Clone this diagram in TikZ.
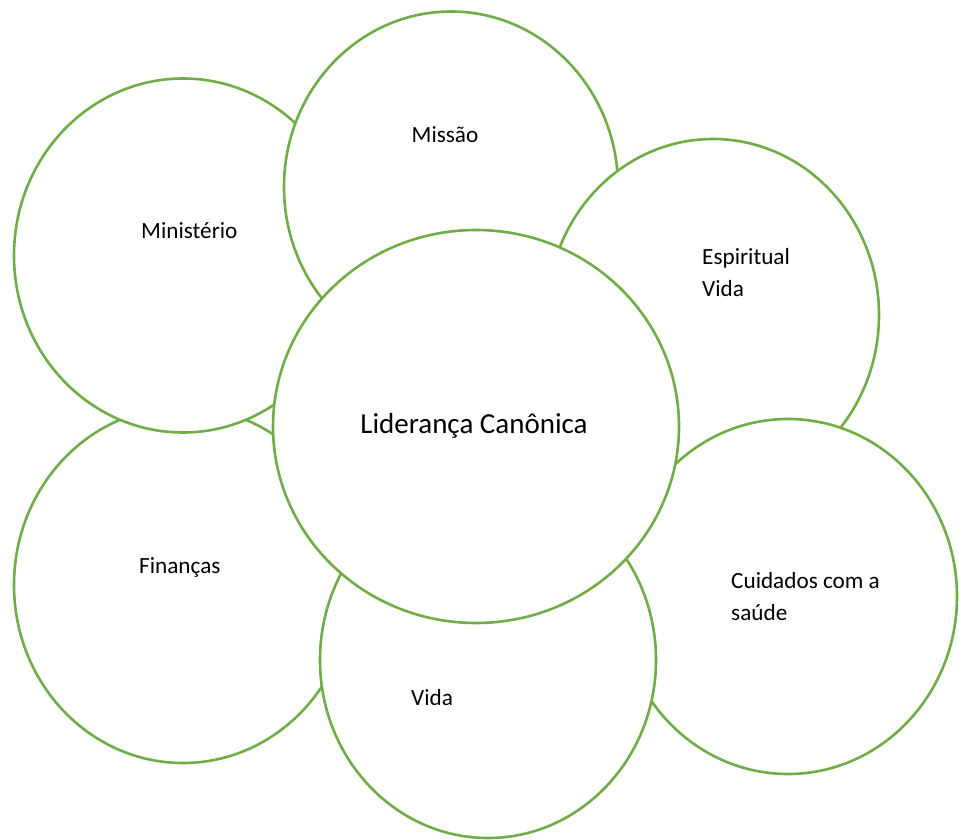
\documentclass[tikz,border=0pt]{standalone}
\usepackage{fontspec}
\setmainfont{Carlito}
\usetikzlibrary{shapes.geometric}
\definecolor{ringgreen}{HTML}{70AD47}
\tikzset{
  ring/.style={ellipse, draw=ringgreen, fill=white, line width=2.6pt, inner sep=0pt},
  lbl/.style={anchor=base west, inner sep=0pt, font=\fontsize{23.2}{31.5}\selectfont, align=left},
  mainlbl/.style={anchor=base, inner sep=0pt, font=\fontsize{29}{34}\selectfont}
}
\begin{document}
\begin{tikzpicture}[x=1pt,y=-1pt]
\useasboundingbox (0,0) rectangle (959,840);
\node[ring, minimum width=338pt, minimum height=356pt] (fin) at (183,585) {};
\node[ring, minimum width=338pt, minimum height=354pt] (min) at (183,255.5) {};
\node[ring, minimum width=334pt, minimum height=351pt] (mis) at (451,187) {};
\node[ring, minimum width=332pt, minimum height=352pt] (esp) at (713,315) {};
\node[ring, minimum width=338pt, minimum height=355pt] (cui) at (788,596.5) {};
\node[ring, minimum width=336pt, minimum height=356pt] (vid) at (488,660) {};
\node[ring, minimum width=406pt, minimum height=393pt] (cen) at (476,426.5) {};
\node[lbl] (tmin) at (141,238) {Ministério};
\node[lbl] (tmis) at (411.5,143) {Missão};
\node[lbl] (tesp) at (702,296) {Espiritual\\Vida};
\node[lbl] (tcui) at (731,620) {Cuidados com a\\saúde};
\node[lbl] (tfin) at (139,573) {Finanças};
\node[lbl] (tvid) at (411,705) {Vida};
\node[mainlbl] (tcen) at (474,433) {Liderança Canônica};
\end{tikzpicture}
\end{document}
